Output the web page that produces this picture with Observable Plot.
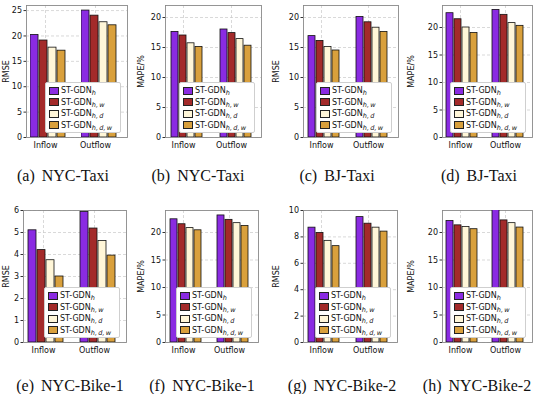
<!DOCTYPE html>
<html>
<head>
<meta charset="utf-8">
<script src="https://cdn.jsdelivr.net/npm/d3@7"></script>
<script src="https://cdn.jsdelivr.net/npm/@observablehq/plot@0.6"></script>
<style>
  html, body { margin: 0; padding: 0; background: #fff; }
  #fig { position: relative; width: 546px; height: 394px; overflow: hidden; background: #fff; }
  .panel { position: absolute; }
  .legend { position: absolute; background: #fff; border: 1px solid #cfcfcf; border-radius: 2px;
            box-sizing: border-box; padding: 2px 3px; font-family: "DejaVu Sans", sans-serif; font-size: 8px; color: #111; }
  .legend .row { display: flex; align-items: center; height: 11.5px; white-space: nowrap; }
  .legend .sw { width: 10px; height: 8px; border: 1px solid #222; box-sizing: border-box; margin-right: 2px; flex: none; }
  .legend sub { font-style: italic; font-size: 6.5px; vertical-align: -2px; line-height: 0; }
  .cap { position: absolute; font-family: "Liberation Serif", "Times New Roman", serif; font-size: 16px; color: #111;
         transform: translateX(-50%); white-space: nowrap; word-spacing: 3px; }
</style>
</head>
<body>
<div id="fig"></div>
<script>
// ---- data ----
const groups = ["Inflow", "Outflow"];
const series = ["ST-GDN_h", "ST-GDN_h,w", "ST-GDN_h,d", "ST-GDN_h,d,w"];
const seriesSub = ["h", "h,\u2009w", "h,\u2009d", "h,\u2009d,\u2009w"];
const colors = ["#8a2be2", "#a32a2a", "#fff6d8", "#d9a03c"];

const captions = ["(a) NYC-Taxi", "(b) NYC-Taxi", "(c) BJ-Taxi", "(d) BJ-Taxi",
                  "(e) NYC-Bike-1", "(f) NYC-Bike-1", "(g) NYC-Bike-2", "(h) NYC-Bike-2"];
const yLabels = ["RMSE", "MAPE/%", "RMSE", "MAPE/%", "RMSE", "MAPE/%", "RMSE", "MAPE/%"];
const yMax = [26, 22, 22, 24, 6, 24, 10, 24];
const yTicks = [
  [0, 5, 10, 15, 20, 25],
  [0, 5, 10, 15, 20],
  [0, 5, 10, 15, 20],
  [0, 5, 10, 15, 20],
  [0, 1, 2, 3, 4, 5, 6],
  [0, 5, 10, 15, 20],
  [0, 2, 4, 6, 8, 10],
  [0, 5, 10, 15, 20]
];
// values[panel] = [inflow series values, outflow series values]
const nycTaxiRMSE  = [[20.2, 19.1, 17.7, 17.1], [25.0, 24.0, 22.7, 22.1]];
const nycTaxiMAPE  = [[17.6, 17.0, 15.7, 15.1], [18.0, 17.4, 16.4, 15.3]];
const bjTaxiRMSE   = [[16.9, 16.1, 15.1, 14.5], [20.1, 19.2, 18.3, 17.6]];
const bjTaxiMAPE   = [[22.6, 21.5, 20.0, 19.0], [23.2, 22.3, 20.8, 20.3]];
const bike1RMSE    = [[5.10, 4.20, 3.74, 3.00], [5.93, 5.18, 4.61, 3.95]];
const bike1MAPE    = [[22.4, 21.5, 20.8, 20.4], [23.1, 22.3, 21.7, 21.2]];
const bike2RMSE    = [[8.7, 8.3, 7.7, 7.3], [9.5, 9.0, 8.7, 8.4]];
const bike2MAPE    = [[22.1, 21.3, 21.0, 20.6], [24.6, 22.2, 21.7, 20.9]];
const allValues = [nycTaxiRMSE, nycTaxiMAPE, bjTaxiRMSE, bjTaxiMAPE, bike1RMSE, bike1MAPE, bike2RMSE, bike2MAPE];

// ---- layout (pixels) ----
// [svgLeft, svgTop, frameLeft, frameRight, frameTop, frameBottom]
const layout = [
  [0,   0, 26, 127, 5, 137], [135, 0, 165, 261, 5, 137], [270, 0, 303, 398, 5, 137], [405, 0, 442, 532, 5, 137],
  [0, 195, 23, 126, 210, 342], [135, 195, 165, 258, 210, 342], [270, 195, 303, 397, 210, 342], [405, 195, 442, 532, 210, 342]
];
const capCenters = [[63, 167], [198, 167], [337, 167], [479, 167], [70, 377], [202, 377], [342, 377], [477, 377]];
const bandOpts = {paddingInner: 0.29, paddingOuter: 0.12, align: 0.3};

const fig = document.getElementById("fig");

allValues.forEach((vals, p) => {
  const [sx, sy, fl, fr, ft, fb] = layout[p];
  const data = [];
  groups.forEach((g, gi) => series.forEach((s, si) => data.push({group: g, series: s, value: vals[gi][si]})));
  const width = 138;
  const marginBottom = 19;
  const height = fb - sy + marginBottom;
  const common = {
    width, height,
    marginLeft: fl - sx,
    marginRight: width - (fr - sx),
    marginTop: ft - sy,
    marginBottom,
    style: {fontFamily: "DejaVu Sans, sans-serif", fontSize: "8px", color: "#111", background: "transparent", overflow: "visible"},
    y: {domain: [0, yMax[p]], axis: null}
  };
  // background: grid, frame and axes
  const back = Plot.plot({
    ...common,
    x: {domain: groups, ...bandOpts, axis: null},
    marks: [
      Plot.gridY(yTicks[p], {stroke: "#c8c8c8", strokeOpacity: 1, strokeDasharray: "3,2", strokeWidth: 0.7}),
      Plot.gridX(groups, {dx: 4, stroke: "#c8c8c8", strokeOpacity: 1, strokeDasharray: "3,2", strokeWidth: 0.7}),
      Plot.frame({stroke: "#8a8a8a", strokeWidth: 0.9}),
      Plot.axisY({ticks: yTicks[p], tickFormat: d => String(d), tickSize: 2.5, tickPadding: 2, stroke: "#333", fill: "#111",
                  label: yLabels[p], labelAnchor: "center", labelArrow: "none", labelOffset: fl - sx - 3}),
      Plot.axisX({anchor: "bottom", tickSize: 0, tickPadding: 5, dx: 4, label: null, fill: "#111"})
    ]
  });
  // foreground: grouped bars
  const front = Plot.plot({
    ...common,
    fx: {domain: groups, ...bandOpts, axis: null, label: null},
    x: {domain: series, paddingInner: 0.1, paddingOuter: 0, axis: null},
    color: {domain: series, range: colors},
    marks: [
      Plot.barY(data, {fx: "group", x: "series", y: "value", fill: "series", stroke: "#111", strokeWidth: 0.8, clip: true})
    ]
  });
  for (const svg of [back, front]) {
    svg.classList.add("panel");
    svg.style.left = sx + "px";
    svg.style.top = sy + "px";
    fig.appendChild(svg);
  }

  // legend (HTML overlay, lower right inside the frame)
  const lg = document.createElement("div");
  lg.className = "legend";
  lg.style.width = "76px";
  lg.style.height = "51px";
  lg.style.left = (fr - 82) + "px";
  lg.style.top = (fb - 55) + "px";
  series.forEach((s, i) => {
    const row = document.createElement("div");
    row.className = "row";
    row.innerHTML = `<span class="sw" style="background:${colors[i]}"></span><span>ST-GDN<sub>${seriesSub[i]}</sub></span>`;
    lg.appendChild(row);
  });
  fig.appendChild(lg);

  const cap = document.createElement("div");
  cap.className = "cap";
  cap.textContent = captions[p];
  cap.style.left = capCenters[p][0] + "px";
  cap.style.top = capCenters[p][1] + "px";
  fig.appendChild(cap);
});
</script>
</body>
</html>
